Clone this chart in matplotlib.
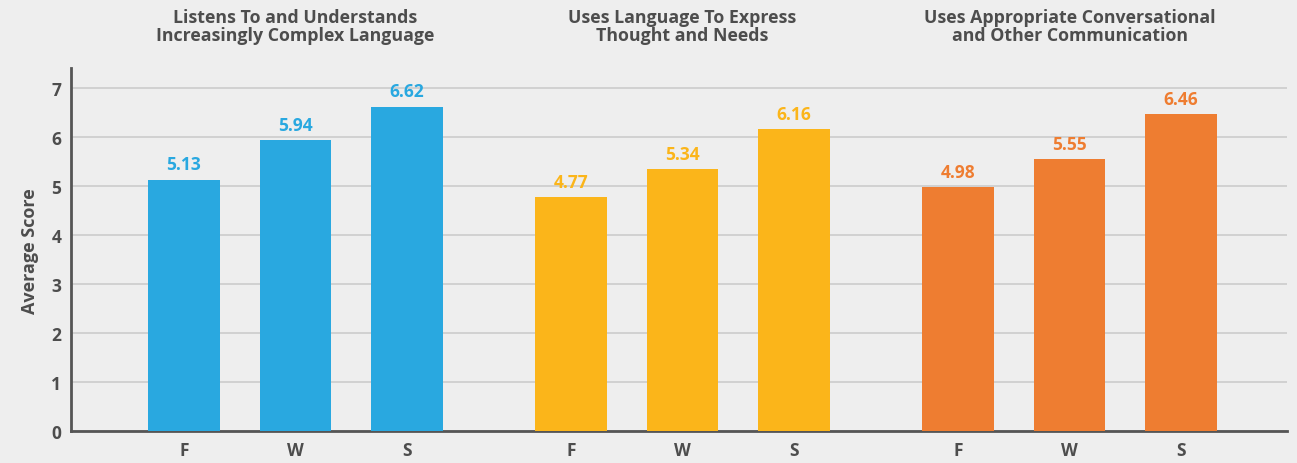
import matplotlib.pyplot as plt
import numpy as np

groups = [
    "Listens To and Understands\nIncreasingly Complex Language",
    "Uses Language To Express\nThought and Needs",
    "Uses Appropriate Conversational\nand Other Communication",
]
seasons = ["F", "W", "S"]
scores = [
    [5.13, 5.94, 6.62],
    [4.77, 5.34, 6.16],
    [4.98, 5.55, 6.46],
]
colors = ["#29A8E0", "#FBB51A", "#EE7D31"]

BG = "#EEEEEE"
TEXT = "#4D4D4D"
plt.rcParams["font.family"] = ["Open Sans", "DejaVu Sans"]

fig = plt.figure(figsize=(12.97, 4.64), dpi=100, facecolor=BG)
ax = fig.add_axes([0.0547, 0.069, 0.9376, 0.7814], facecolor=BG)

group_step = 3.47
for g, (vals, color) in enumerate(zip(scores, colors)):
    xs = g * group_step + np.arange(3)
    ax.bar(xs, vals, width=0.64, color=color, zorder=3)
    for x, v in zip(xs, vals):
        ax.text(x, v + 0.13, f"{v:.2f}", ha="center", va="bottom",
                color=color, fontsize=12.5, weight="bold")
    ax.text(xs[1], 7.9, groups[g], ha="center", va="bottom",
            color=TEXT, fontsize=12.8, weight="bold", linespacing=0.96,
            clip_on=False)

xticks = [g * group_step + i for g in range(3) for i in range(3)]
ax.set_xticks(xticks, seasons * 3)
ax.set_xlim(-1.013, 9.89)
ax.set_ylim(0, 7.4)
ax.set_yticks(range(8))
ax.tick_params(length=0, labelsize=12.5, labelcolor=TEXT, pad=7)
for lab in ax.get_xticklabels() + ax.get_yticklabels():
    lab.set_fontweight("bold")
ax.grid(axis="y", color="#CCCCCC", lw=1.2, zorder=0)
ax.set_ylabel("Average Score", fontsize=13, weight="bold", color=TEXT, labelpad=9)
ax.spines[["top", "right"]].set_visible(False)
for s in ["left", "bottom"]:
    ax.spines[s].set_color("#555555")
    ax.spines[s].set_linewidth(2)

fig.savefig("out.png", dpi=100, facecolor=BG)
